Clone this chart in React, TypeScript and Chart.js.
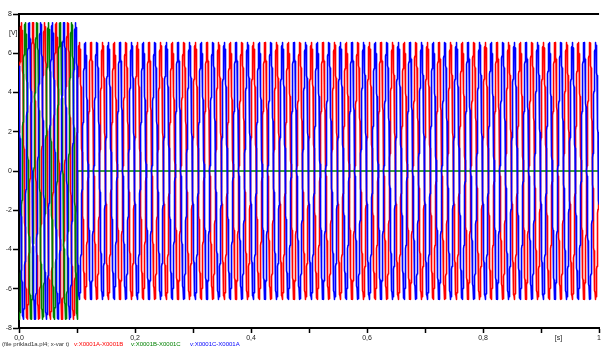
import React, { useEffect, useRef } from 'react';
import { Chart, registerables } from 'chart.js';

Chart.register(...registerables);

// ---- data ----
const SERIES_NAMES = ['v:X0001A-X0001B', 'v:X0001B-X0001C', 'v:X0001C-X0001A'];
const SERIES_COLORS = ['#ff0000', '#008000', '#0000ff'];
const FILE_LABEL = '(file priklad1a.pl4; x-var t)';
const FREQUENCY_HZ = [50];
const FAULT_TIME_S = [0.1015];
const PRE_FAULT_AMPLITUDE_V = [7.55, 7.55, 7.55];
const PRE_FAULT_PHASE_DEG = [15, -105, 135];
const POST_FAULT_AMPLITUDE_V = [6.54, 0, 6.54];
const POST_FAULT_PHASE_DEG = [15, 0, -165];
const TIME_RANGE_S = [0, 1];
const SAMPLE_STEP_S = [0.0001];
const X_TICK_LABELS = ['0,0', '', '0,2', '', '0,4', '', '0,6', '', '0,8', '', '1'];
const Y_RANGE = [-8, 8];
const Y_STEP = [2];
const Y_UNIT = '[V]';
const X_UNIT = '[s]';

const FONT = "'Liberation Sans', Arial, sans-serif";

function buildSeries(i: number) {
  const pts: { x: number; y: number }[] = [];
  const w = 2 * Math.PI * FREQUENCY_HZ[0];
  const n = Math.round((TIME_RANGE_S[1] - TIME_RANGE_S[0]) / SAMPLE_STEP_S[0]);
  for (let k = 0; k <= n; k++) {
    const t = TIME_RANGE_S[0] + k * SAMPLE_STEP_S[0];
    const pre = t < FAULT_TIME_S[0];
    const a = pre ? PRE_FAULT_AMPLITUDE_V[i] : POST_FAULT_AMPLITUDE_V[i];
    const p = ((pre ? PRE_FAULT_PHASE_DEG[i] : POST_FAULT_PHASE_DEG[i]) * Math.PI) / 180;
    pts.push({ x: t, y: a * Math.sin(w * t + p) });
  }
  return pts;
}

const extrasPlugin = {
  id: 'extras',
  afterDraw(chart: any) {
    const { ctx, chartArea, scales } = chart;
    ctx.save();
    // top frame line
    ctx.strokeStyle = '#000';
    ctx.lineWidth = 2;
    ctx.beginPath();
    ctx.moveTo(chartArea.left - 1, chartArea.top);
    ctx.lineTo(chartArea.right, chartArea.top);
    ctx.stroke();

    ctx.font = `7px ${FONT}`;
    ctx.fillStyle = '#222';
    ctx.textBaseline = 'middle';
    // y unit
    ctx.textAlign = 'left';
    ctx.fillText(Y_UNIT, 9, scales.y.getPixelForValue(7) - 1);
    // x unit
    ctx.textAlign = 'center';
    ctx.fillText(X_UNIT, scales.x.getPixelForValue(0.93), 338);

    // legend line
    ctx.font = `6px ${FONT}`;
    ctx.textAlign = 'left';
    ctx.fillStyle = '#333';
    ctx.fillText(FILE_LABEL, 2, 344.5);
    const starts = [74, 131, 190];
    SERIES_NAMES.forEach((name, i) => {
      ctx.fillStyle = SERIES_COLORS[i];
      ctx.fillText(name, starts[i], 344.5);
    });
    ctx.restore();
  },
};

export default function App() {
  const ref = useRef<HTMLCanvasElement | null>(null);

  useEffect(() => {
    document.body.style.margin = '0';
    const canvas = ref.current;
    if (!canvas) return;
    const chart = new Chart(canvas, {
      type: 'line',
      data: {
        datasets: SERIES_NAMES.map((name, i) => ({
          label: name,
          data: buildSeries(i),
          borderColor: SERIES_COLORS[i],
          borderWidth: 1.6,
          borderJoinStyle: 'round',
          borderCapStyle: 'round',
          pointRadius: 0,
          tension: 0,
          fill: false,
          order: 3 - i,
        })),
      },
      options: {
        responsive: false,
        animation: false,
        devicePixelRatio: 1,
        parsing: false,
        normalized: true,
        layout: { padding: { top: 14, left: 0, right: 0, bottom: 0 }, autoPadding: false },
        plugins: { legend: { display: false }, tooltip: { enabled: false } },
        scales: {
          x: {
            type: 'linear',
            min: TIME_RANGE_S[0],
            max: TIME_RANGE_S[1],
            afterFit: (s: any) => {
              s.height = 20;
            },
            ticks: {
              stepSize: 0.1,
              autoSkip: false,
              maxRotation: 0,
              minRotation: 0,
              padding: 1,
              color: '#222',
              font: { family: FONT, size: 7 },
              callback: (v: any) => X_TICK_LABELS[Math.round(Number(v) * 10)] ?? '',
            },
            grid: {
              display: true,
              drawOnChartArea: false,
              drawTicks: true,
              tickLength: 5,
              tickColor: '#000',
              tickWidth: 1.5,
            },
            border: { display: true, color: '#000', width: 2 },
          },
          y: {
            type: 'linear',
            min: Y_RANGE[0],
            max: Y_RANGE[1],
            afterFit: (s: any) => {
              s.width = 19;
            },
            ticks: {
              stepSize: Y_STEP[0],
              autoSkip: false,
              padding: 1,
              color: '#222',
              font: { family: FONT, size: 7 },
            },
            grid: {
              display: true,
              drawOnChartArea: false,
              drawTicks: true,
              tickLength: 6,
              tickColor: '#000',
              tickWidth: 1.5,
            },
            border: { display: true, color: '#000', width: 2 },
          },
        },
      },
      plugins: [extrasPlugin],
    });
    return () => chart.destroy();
  }, []);

  return (
    <div style={{ position: 'fixed', left: 0, top: 0, width: 602, height: 348, background: '#fff' }}>
      <canvas ref={ref} width={602} height={348} style={{ width: 602, height: 348, display: 'block' }} />
    </div>
  );
}
